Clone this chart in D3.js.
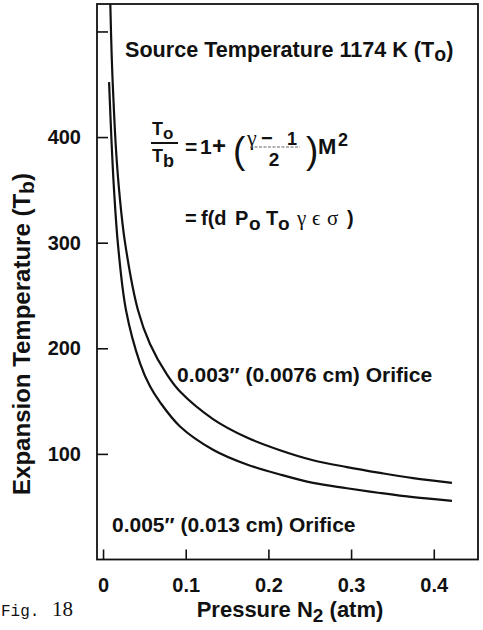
<!DOCTYPE html>
<html>
<head>
<meta charset="utf-8">
<script src="https://cdn.jsdelivr.net/npm/d3@7"></script>
<style>
  body { margin: 0; background: #fff; }
  svg { display: block; }
  text { font-family: "Liberation Sans", Arial, sans-serif; font-weight: bold; fill: #111; }
  .serif { font-family: "Liberation Serif", "DejaVu Serif", serif; font-weight: normal; }
</style>
</head>
<body>
<svg id="chart" width="483" height="630"></svg>
<script>
// Axis ticks
const pressureTicks = [0, 0.1, 0.2, 0.3, 0.4];
const pressureLabels = ["0", "0.1", "0.2", "0.3", "0.4"];
const tempTicks = [100, 200, 300, 400, 500];
const tempLabels = ["100", "200", "300", "400", ""];

// 0.003" (0.0076 cm) orifice
const smallP = [0.0088, 0.0105, 0.0125, 0.0157, 0.0200, 0.0266, 0.0423, 0.0568, 0.0774, 0.0931, 0.133, 0.174, 0.214, 0.254, 0.295, 0.335, 0.375, 0.422];
const smallT = [526, 476, 437, 388, 345, 300, 236, 204, 175, 159, 133, 115.5, 103.5, 94, 87.5, 82, 77, 72.5];

// 0.005" (0.013 cm) orifice
const largeP = [0.0073, 0.0105, 0.0133, 0.0181, 0.0278, 0.0447, 0.0568, 0.0689, 0.0931, 0.133, 0.174, 0.214, 0.254, 0.295, 0.335, 0.375, 0.422];
const largeT = [452, 392, 350, 298, 236, 186, 164, 149, 126, 104, 90, 80.5, 72.5, 67.5, 63, 59, 55.5];

const svg = d3.select("#chart");
const plot = { left: 97, right: 478, top: 4, bottom: 559.5 };

const x = d3.scaleLinear().domain([-0.0073, 0.4535]).range([plot.left, plot.right]);
const y = d3.scaleLinear().domain([0, 526]).range([plot.bottom, plot.top]);

svg.append("defs").append("clipPath").attr("id", "plotClip")
  .append("rect")
  .attr("x", plot.left).attr("y", plot.top)
  .attr("width", plot.right - plot.left).attr("height", plot.bottom - plot.top);

// Frame
svg.append("rect")
  .attr("x", plot.left).attr("y", plot.top)
  .attr("width", plot.right - plot.left).attr("height", plot.bottom - plot.top)
  .attr("fill", "none").attr("stroke", "#111").attr("stroke-width", 1.8);

// Axes with inward ticks
const yAxis = d3.axisLeft(y).tickValues(tempTicks)
  .tickFormat((d, i) => tempLabels[i]).tickSize(-11).tickPadding(16);
const gy = svg.append("g").attr("transform", `translate(${plot.left},0)`).call(yAxis);

const xAxis = d3.axisBottom(x).tickValues(pressureTicks)
  .tickFormat((d, i) => pressureLabels[i]).tickSize(-10).tickPadding(18.5);
const gx = svg.append("g").attr("transform", `translate(0,${plot.bottom})`).call(xAxis);

[gx, gy].forEach(g => {
  g.select(".domain").remove();
  g.selectAll(".tick line").attr("stroke", "#111").attr("stroke-width", 1.6);
  g.selectAll(".tick text").attr("font-size", 20).attr("fill", "#111")
    .style("font-family", '"Liberation Sans", Arial, sans-serif').style("font-weight", "bold");
});

// Curves
const line = d3.line().x(d => x(d[0])).y(d => y(d[1])).curve(d3.curveCatmullRom.alpha(0.5));
const curves = svg.append("g").attr("clip-path", "url(#plotClip)");
[[smallP, smallT], [largeP, largeT]].forEach(([ps, ts]) => {
  curves.append("path")
    .datum(ps.map((p, i) => [p, ts[i]]))
    .attr("d", line)
    .attr("fill", "none").attr("stroke", "#111").attr("stroke-width", 2.2);
});

// Title inside the frame
const title = svg.append("text").attr("x", 125).attr("y", 57).attr("font-size", 21.6);
title.append("tspan").text("Source Temperature 1174 K (T");
title.append("tspan").attr("font-size", 19.5).attr("dy", 3.5).text("o");
title.append("tspan").attr("dy", -3.5).text(")");

// Formula: To/Tb = 1 + ((γ-1)/2) M²
const f = svg.append("g");
const num = f.append("text").attr("x", 152).attr("y", 135).attr("font-size", 18);
num.append("tspan").text("T");
num.append("tspan").attr("font-size", 17).attr("dy", 4).text("o");
f.append("line").attr("x1", 151).attr("x2", 178).attr("y1", 143).attr("y2", 143)
  .attr("stroke", "#111").attr("stroke-width", 2);
const den = f.append("text").attr("x", 152).attr("y", 162).attr("font-size", 18);
den.append("tspan").text("T");
den.append("tspan").attr("font-size", 18).attr("dy", 5).text("b");
f.append("text").attr("x", 185).attr("y", 154).attr("font-size", 21).text("=");
f.append("text").attr("x", 200).attr("y", 154).attr("font-size", 21).text("1");
f.append("text").attr("x", 212).attr("y", 154).attr("font-size", 24).text("+");
f.append("text").attr("x", 233).attr("y", 163).attr("font-size", 37)
  .style("font-weight", "normal").text("(");
f.append("text").attr("x", 306).attr("y", 163).attr("font-size", 37)
  .style("font-weight", "normal").text(")");
f.append("text").attr("x", 247).attr("y", 145).attr("class", "serif").attr("font-size", 22).text("γ");
f.append("text").attr("x", 261).attr("y", 145).attr("font-size", 20).text("−");
f.append("text").attr("x", 287).attr("y", 145).attr("font-size", 18).text("1");
f.append("line").attr("x1", 250).attr("x2", 300).attr("y1", 147).attr("y2", 147)
  .attr("stroke", "#666").attr("stroke-width", 1.1).attr("stroke-dasharray", "3,1.5");
f.append("text").attr("x", 274).attr("y", 166).attr("font-size", 19)
  .attr("text-anchor", "middle").text("2");
f.append("text").attr("x", 318).attr("y", 154).attr("font-size", 22).text("M");
f.append("text").attr("x", 338).attr("y", 146).attr("font-size", 18).text("2");

// Second line: = f(d Po To γ ϵ σ)
const l2 = svg.append("text").attr("y", 225).attr("font-size", 20);
l2.append("tspan").attr("x", 185).text("=");
l2.append("tspan").attr("x", 201).text("f(d");
l2.append("tspan").attr("x", 235).text("P");
l2.append("tspan").attr("x", 249).attr("dy", 5).attr("font-size", 19).text("o");
l2.append("tspan").attr("x", 266).attr("dy", -5).text("T");
l2.append("tspan").attr("x", 278).attr("dy", 5).attr("font-size", 19).text("o");
l2.append("tspan").attr("x", 297).attr("dy", -5).attr("class", "serif").attr("font-size", 21).text("γ");
l2.append("tspan").attr("x", 312).attr("class", "serif").attr("font-size", 21).text("ϵ");
l2.append("tspan").attr("x", 327).attr("class", "serif").attr("font-size", 21).text("σ");
l2.append("tspan").attr("x", 347).text(")");

// Curve labels
svg.append("text").attr("x", 177).attr("y", 382).attr("font-size", 21)
  .text("0.003″ (0.0076 cm) Orifice");
svg.append("text").attr("x", 112).attr("y", 532).attr("font-size", 21)
  .text("0.005″ (0.013 cm) Orifice");

// Axis titles
const yt = svg.append("text")
  .attr("transform", "translate(30,334) rotate(-90)")
  .attr("text-anchor", "middle").attr("font-size", 24);
yt.append("tspan").text("Expansion Temperature (T");
yt.append("tspan").attr("font-size", 21).attr("dy", 4).text("b");
yt.append("tspan").attr("dy", -4).text(")");

const xt = svg.append("text").attr("x", 290).attr("y", 617)
  .attr("text-anchor", "middle").attr("font-size", 22);
xt.append("tspan").text("Pressure N");
xt.append("tspan").attr("font-size", 19).attr("dy", 5).text("2");
xt.append("tspan").attr("dy", -5).text(" (atm)");

// Figure number
const fig = svg.append("text").attr("y", 616).style("font-weight", "normal");
fig.append("tspan").attr("x", 1).style("font-family", '"Liberation Mono", monospace')
  .attr("font-size", 16).text("Fig.");
fig.append("tspan").attr("x", 52).style("font-family", '"Liberation Serif", serif')
  .attr("font-size", 21).text("18");
</script>
</body>
</html>
